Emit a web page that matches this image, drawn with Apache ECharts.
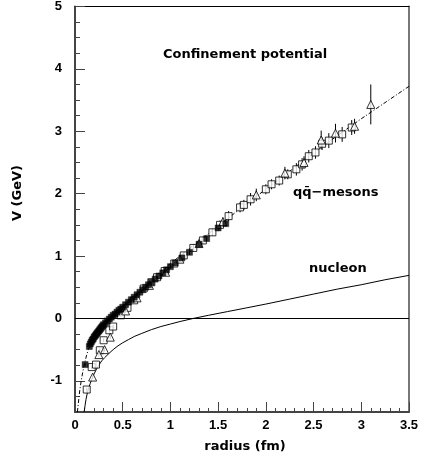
<!DOCTYPE html>
<html>
<head>
<meta charset="utf-8">
<script src="https://cdn.jsdelivr.net/npm/echarts@6/dist/echarts.min.js"></script>
<style>
html,body{margin:0;padding:0;background:#fff;}
#c{width:421px;height:462px;}
</style>
</head>
<body>
<div id="c"></div>
<script>
// ---- data ----
var xTicks = [0, 0.5, 1, 1.5, 2, 2.5, 3, 3.5];
var yLabels = [-1, 0, 1, 2, 3, 4, 5];

// fitted confinement potential (dash-dot): [r fm, V GeV]
var mesonFit = [[0.025,-1.5],[0.035,-1.36],[0.05,-1.15],[0.065,-1.0],[0.08,-0.87],[0.1,-0.72],[0.12,-0.6],[0.14,-0.5],[0.16,-0.43],[0.18,-0.37],[0.2,-0.31],[0.25,-0.19],[0.3,-0.1],[0.36,0.0],[0.45,0.13],[0.55,0.28],[0.65,0.41],[0.8,0.63],[1.0,0.88],[1.2,1.12],[1.4,1.36],[1.6,1.6],[1.8,1.84],[2.0,2.07],[2.25,2.36],[2.5,2.65],[2.75,2.93],[3.0,3.2],[3.25,3.46],[3.5,3.72]];

// nucleon potential (solid)
var nucleon = [[0.096,-1.5],[0.105,-1.4],[0.115,-1.3],[0.13,-1.19],[0.145,-1.11],[0.16,-1.04],[0.18,-0.96],[0.2,-0.89],[0.226,-0.81],[0.25,-0.75],[0.28,-0.68],[0.31,-0.63],[0.35,-0.57],[0.4,-0.5],[0.45,-0.44],[0.5,-0.39],[0.56,-0.34],[0.62,-0.29],[0.7,-0.24],[0.8,-0.18],[0.9,-0.13],[1.0,-0.09],[1.1,-0.05],[1.24,0.0],[1.4,0.05],[1.6,0.11],[1.8,0.17],[2.0,0.23],[2.25,0.31],[2.5,0.39],[2.75,0.47],[3.0,0.54],[3.25,0.62],[3.5,0.69]];

// lattice points: [r, V, error]
var filledSquares = [[0.106,-0.74,0.03],[0.15,-0.45,0],[0.16,-0.41,0],[0.17,-0.38,0],[0.18,-0.35,0],[0.19,-0.33,0],[0.2,-0.3,0],[0.21,-0.28,0],[0.22,-0.26,0],[0.23,-0.24,0],[0.24,-0.22,0],[0.25,-0.2,0],[0.26,-0.18,0],[0.27,-0.16,0],[0.28,-0.14,0],[0.29,-0.12,0],[0.3,-0.1,0],[0.32,-0.07,0],[0.34,-0.04,0],[0.36,-0.01,0],[0.38,0.02,0],[0.4,0.05,0],[0.42,0.07,0],[0.44,0.1,0],[0.46,0.13,0],[0.48,0.15,0],[0.5,0.18,0],[0.53,0.22,0],[0.56,0.26,0],[0.59,0.3,0],[0.62,0.34,0],[0.65,0.38,0],[0.68,0.42,0],[0.71,0.46,0],[0.74,0.5,0],[0.77,0.54,0],[0.8,0.58,0],[0.84,0.63,0],[0.88,0.68,0],[0.92,0.73,0],[0.96,0.78,0],[1.0,0.83,0.03],[1.05,0.89,0.03],[1.12,0.97,0.03],[1.2,1.06,0.04],[1.3,1.19,0.04],[1.38,1.28,0.04],[1.5,1.45,0.05],[1.58,1.52,0.05]];

var openSquares = [[0.123,-1.14,0.03],[0.175,-0.78,0.03],[0.22,-0.74,0.03],[0.26,-0.51,0.03],[0.3,-0.35,0.03],[0.36,-0.19,0.03],[0.4,-0.13,0.03],[0.48,0.05,0.03],[0.55,0.17,0.03],[0.62,0.29,0.03],[0.72,0.48,0.04],[0.8,0.58,0.04],[0.86,0.66,0.04],[0.94,0.76,0.05],[1.04,0.88,0.05],[1.14,1.01,0.05],[1.24,1.13,0.06],[1.34,1.25,0.06],[1.44,1.38,0.06],[1.52,1.5,0.07],[1.61,1.64,0.08],[1.73,1.78,0.08],[1.77,1.82,0.08],[1.84,1.91,0.1],[2.0,2.07,0.08],[2.06,2.15,0.08],[2.14,2.21,0.08],[2.23,2.31,0.08],[2.32,2.39,0.1],[2.38,2.47,0.1],[2.45,2.6,0.1],[2.52,2.66,0.1],[2.59,2.8,0.1],[2.66,2.85,0.12],[2.8,2.95,0.12],[2.9,3.06,0.12]];

var triangles = [[0.185,-0.94,0.03],[0.25,-0.58,0.03],[0.31,-0.5,0.03],[0.37,-0.3,0.03],[0.53,0.12,0.03],[0.65,0.33,0.04],[0.78,0.53,0.04],[0.95,0.74,0.05],[1.1,0.95,0.05],[1.3,1.2,0.06],[1.55,1.55,0.07],[1.9,1.98,0.1],[2.2,2.33,0.1],[2.4,2.5,0.1],[2.58,2.86,0.15],[2.73,2.97,0.15],[2.93,3.08,0.12],[3.1,3.43,0.32]];

// ---- chart ----
var FONT = '"DejaVu Sans", "Liberation Sans", sans-serif';
var TICKFONT = '"Liberation Sans", Arial, sans-serif';
var chart = echarts.init(document.getElementById('c'), null, {renderer: 'canvas'});

function errorBars(data) {
  return {
    type: 'custom',
    xAxisIndex: 0, yAxisIndex: 0,
    data: data,
    silent: true,
    z: 3,
    renderItem: function (params, api) {
      var x = api.value(0), y = api.value(1), e = api.value(2);
      if (!e) return null;
      var p1 = api.coord([x, y - e]);
      var p2 = api.coord([x, y + e]);
      return {
        type: 'line',
        shape: {x1: p1[0], y1: p1[1], x2: p2[0], y2: p2[1]},
        style: {stroke: '#000', lineWidth: 1}
      };
    }
  };
}

var option = {
  animation: false,
  backgroundColor: '#fff',
  grid: {left: 75, right: 6, top: 4, bottom: 50, containLabel: false},
  xAxis: [{
    type: 'value', min: 0, max: 3.5, interval: 0.5, position: 'bottom',
    axisLine: {show: true, onZero: false, lineStyle: {color: '#444', width: 2}},
    axisTick: {show: true, inside: true, length: 10, lineStyle: {color: '#444', width: 1}},
    minorTick: {show: true, splitNumber: 5, length: 4, lineStyle: {color: '#444', width: 1}},
    splitLine: {show: false},
    axisLabel: {
      margin: 7, color: '#000', fontFamily: TICKFONT, fontWeight: 'bold', fontSize: 13,
      formatter: function (v) { return String(v); }
    }
  }, {
    type: 'value', min: 0, max: 3.5, position: 'top',
    axisLine: {show: true, onZero: false, lineStyle: {color: '#000', width: 1}},
    axisTick: {show: false}, axisLabel: {show: false}, splitLine: {show: false}
  }],
  yAxis: [{
    type: 'value', min: -1.5, max: 5, interval: 0.25, position: 'left',
    axisLine: {show: true, onZero: false, lineStyle: {color: '#444', width: 2}},
    axisTick: {show: true, inside: true, length: 5, lineStyle: {color: '#444', width: 1}},
    splitLine: {show: false},
    axisLabel: {
      customValues: yLabels,
      margin: 13, color: '#000', fontFamily: TICKFONT, fontWeight: 'bold', fontSize: 13,
      formatter: function (v) { return String(v); }
    }
  }, {
    type: 'value', min: -1.5, max: 5, position: 'left',
    axisLine: {show: false},
    axisTick: {show: true, inside: true, length: 10, customValues: yLabels, lineStyle: {color: '#444', width: 1}},
    axisLabel: {show: false}, splitLine: {show: false}
  }, {
    type: 'value', min: -1.5, max: 5, position: 'right',
    axisLine: {show: true, onZero: false, lineStyle: {color: '#777', width: 2}},
    axisTick: {show: false}, axisLabel: {show: false}, splitLine: {show: false}
  }],
  series: [
    {
      type: 'line', data: mesonFit, xAxisIndex: 0, yAxisIndex: 0,
      showSymbol: false, symbol: 'none', smooth: false,
      lineStyle: {color: '#000', width: 1, type: [4, 2, 1, 2]},
      z: 2,
      markLine: {
        silent: true, symbol: ['none', 'none'], label: {show: false},
        lineStyle: {color: '#000', width: 1, type: 'solid'},
        data: [{yAxis: 0}]
      }
    },
    {
      type: 'line', data: nucleon, xAxisIndex: 0, yAxisIndex: 0,
      showSymbol: false, symbol: 'none', smooth: false,
      lineStyle: {color: '#000', width: 1}, z: 2
    },
    errorBars(openSquares),
    errorBars(triangles),
    errorBars(filledSquares),
    {
      type: 'scatter', data: openSquares, xAxisIndex: 0, yAxisIndex: 0,
      symbol: 'rect', symbolSize: 7,
      itemStyle: {color: '#fff', borderColor: '#000', borderWidth: 1}, z: 4
    },
    {
      type: 'scatter', data: triangles, xAxisIndex: 0, yAxisIndex: 0,
      symbol: 'triangle', symbolSize: 8,
      itemStyle: {color: '#fff', borderColor: '#000', borderWidth: 1}, z: 4
    },
    {
      type: 'scatter', data: filledSquares, xAxisIndex: 0, yAxisIndex: 0,
      symbol: 'rect', symbolSize: 6,
      itemStyle: {color: '#000', borderColor: '#000', borderWidth: 0.5}, z: 5
    }
  ],
  graphic: [
    {type: 'text', x: 163, y: 55, style: {text: 'Confinement potential', font: 'bold 13px ' + FONT, fill: '#000', verticalAlign: 'middle'}},
    {type: 'text', x: 293, y: 193, style: {text: 'qq\u0304\u2212mesons', font: 'bold 13px ' + FONT, fill: '#000', verticalAlign: 'middle'}},
    {type: 'text', x: 309, y: 269, style: {text: 'nucleon', font: 'bold 13px ' + FONT, fill: '#000', verticalAlign: 'middle'}},
    {type: 'text', x: 18, y: 193, rotation: Math.PI / 2, style: {text: 'V (GeV)', font: 'bold 13px ' + FONT, fill: '#000', align: 'center', verticalAlign: 'middle'}},
    {type: 'text', x: 245, y: 447, style: {text: 'radius (fm)', font: 'bold 13px ' + FONT, fill: '#000', align: 'center', verticalAlign: 'middle'}}
  ]
};
chart.setOption(option);
</script>
</body>
</html>
